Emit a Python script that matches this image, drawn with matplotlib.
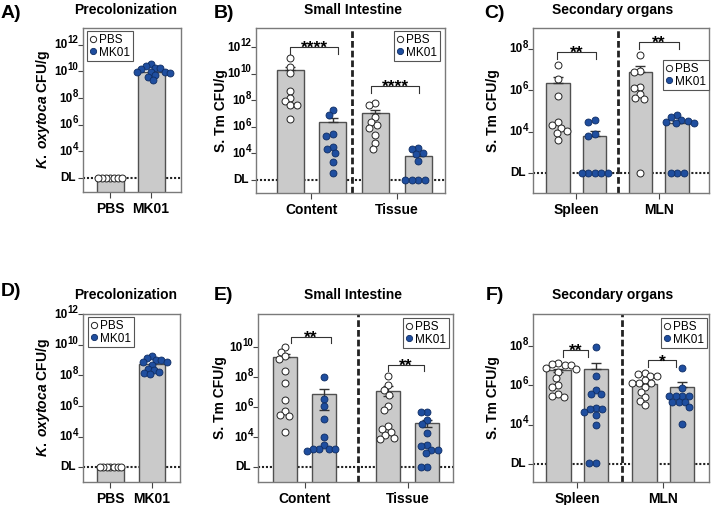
import matplotlib
matplotlib.use("Agg")
import matplotlib.pyplot as plt
from matplotlib.lines import Line2D
import numpy as np

plt.rcParams["font.family"] = ["Liberation Sans", "DejaVu Sans"]
plt.rcParams["mathtext.fontset"] = "custom"
plt.rcParams["mathtext.rm"] = "Liberation Sans:bold"
plt.rcParams["mathtext.it"] = "Liberation Sans:italic:bold"
plt.rcParams["mathtext.bf"] = "Liberation Sans:bold"

W, H = 711, 505
BLUE = "#1f4e9f"
BLUE_EDGE = "#0f2d63"
BAR = "#cacaca"
nan = np.nan

# all values are log10 CFU/g, the detection limit (DL) sits at 10^2
DL = 2.0

# A) Precolonization (K. oxytoca)
a_labels = ["PBS", "MK01"]
a_pbs = [2.0, 2.0, 2.0, 2.0, 2.0, 2.0, 2.0]
a_mk01 = [10.52, 10.39, 10.22, 10.22, 10.14, 9.96, 9.96, 9.96, 9.89, 9.72, 9.59, 9.34]
a_mean = [2.0, 9.96]
a_err_hi = [nan, nan]
a_err_lo = [nan, nan]

# B) Small intestine (S. Tm)
b_groups = ["Content", "Tissue"]
b_content_pbs = [11.15, 10.52, 10.02, 8.71, 8.19, 7.94, 7.64, 7.62, 6.59]
b_content_mk01 = [7.26, 6.89, 5.43, 5.31, 4.5, 4.31, 4.05, 3.33, 2.5]
b_tissue_pbs = [7.77, 7.62, 6.71, 6.34, 6.16, 5.89, 5.38, 4.8, 4.35]
b_tissue_mk01 = [4.4, 4.35, 4.05, 3.95, 3.45, 2.0, 2.0, 2.0, 2.0]
b_mean = [10.27, 6.34, 7.01, 3.8]
b_err_hi = [10.5, 6.64, 7.26, 3.99]
b_err_lo = [nan, nan, nan, nan]
b_stars = ["****", "****"]

# C) Secondary organs
c_groups = ["Spleen", "MLN"]
c_spleen_pbs = [7.23, 6.56, 5.70, 4.45, 4.33, 4.17, 4.06, 3.93, 3.58]
c_spleen_mk01 = [4.55, 4.45, 3.9, 3.8, 2.0, 2.0, 2.0, 2.0, 2.0]
c_mln_pbs = [7.71, 6.94, 6.86, 6.15, 6.1, 5.82, 5.65, 5.57, 2.0]
c_mln_mk01 = [4.81, 4.7, 4.57, 4.5, 4.48, 4.42, 4.4, 2.0, 2.0, 2.0]
c_mean = [6.35, 3.82, 6.87, 4.44]
c_err_hi = [6.62, 4.04, 7.15, 4.53]
c_err_lo = [nan, nan, nan, nan]
c_stars = ["**", "**"]

# D) Precolonization, second experiment
d_labels = ["PBS", "MK01"]
d_pbs = [2.0, 2.0, 2.0, 2.0, 2.0, 2.0, 2.0]
d_mk01 = [9.25, 9.1, 8.99, 8.99, 8.88, 8.88, 8.66, 8.44, 8.33, 8.22, 8.16, 8.11]
d_mean = [2.0, 8.77]
d_err_hi = [nan, nan]
d_err_lo = [nan, nan]

# E) Small intestine, second experiment
e_groups = ["Content", "Tissue"]
e_content_pbs = [9.97, 9.67, 9.37, 9.22, 8.37, 7.6, 6.49, 5.71, 5.44, 5.38, 4.31]
e_content_mk01 = [7.97, 6.53, 6.04, 5.22, 4.0, 3.49, 3.2, 3.2, 3.2, 3.2, 3.07]
e_tissue_pbs = [8.04, 7.49, 7.15, 6.82, 6.09, 5.77, 4.71, 4.55, 4.31, 4.15, 3.93, 3.87]
e_tissue_mk01 = [5.64, 5.64, 5.15, 4.89, 4.27, 3.49, 3.42, 3.15, 3.15, 2.93, 2.0, 2.0]
e_mean = [9.33, 6.89, 7.09, 4.93]
e_err_hi = [9.53, 7.2, 7.37, 5.15]
e_err_lo = [nan, 5.82, 6.71, 4.64]
e_stars = ["**", "**"]

# F) Secondary organs, second experiment
f_groups = ["Spleen", "MLN"]
f_spleen_pbs = [7.13, 7.09, 7.04, 7.04, 6.92, 6.84, 6.67, 6.36, 6.02, 5.93, 5.55, 5.45, 5.42]
f_spleen_mk01 = [7.95, 6.48, 5.76, 5.54, 5.54, 4.87, 4.78, 4.78, 4.65, 4.51, 3.96, 2.03, 2.03]
f_mln_pbs = [6.62, 6.58, 6.48, 6.48, 6.27, 6.15, 6.15, 6.15, 5.93, 5.67, 5.42, 5.21, 4.99]
f_mln_mk01 = [6.92, 5.85, 5.45, 5.45, 5.45, 5.45, 5.16, 5.16, 5.16, 4.9, 4.02]
f_mean = [6.78, 6.87, 6.1, 5.93]
f_err_hi = [6.85, 7.16, 6.15, 6.18]
f_err_lo = [6.68, nan, 6.05, nan]
f_stars = ["**", "*"]


fig = plt.figure(figsize=(W / 100, H / 100), dpi=100)


def add_axes_px(left, top, right, bottom):
    return fig.add_axes([left / W, 1 - bottom / H, (right - left) / W, (bottom - top) / H])


def swarm(ax, xc, ys, gap):
    # simple beeswarm in pixel space
    disp = ax.transData.transform(np.column_stack([np.full(len(ys), xc), ys]))
    x0 = disp[0, 0]
    order = np.argsort(-np.asarray(ys))
    placed = []
    offs = np.zeros(len(ys))
    for i in order:
        y = disp[i, 1]
        cands = [0.0]
        for ox, oy in placed:
            dy = abs(oy - y)
            if dy < gap:
                dx = np.sqrt(gap ** 2 - dy ** 2)
                cands += [ox - dx, ox + dx]
        cands = sorted(cands, key=lambda c: (round(abs(c), 3), c))
        for c in cands:
            if all((c - ox) ** 2 + (y - oy) ** 2 >= gap ** 2 - 1e-6 for ox, oy in placed):
                break
        placed.append((c, y))
        offs[i] = c
    inv = ax.transData.inverted()
    return [inv.transform((x0 + o, yy))[0] for o, yy in zip(offs, disp[:, 1])]


def power_ticks(ax, yticks, base_fs=8.5, exp_fs=7.0):
    # "10" plus a large superscript, drawn by hand like the original figure
    ax.set_yticks(yticks)
    ax.set_yticklabels([])
    tr = ax.get_yaxis_transform()
    for t in yticks:
        if t == DL:
            ax.annotate("DL", xy=(0, t), xycoords=tr, xytext=(-5, 0), textcoords="offset points",
                        ha="right", va="center", fontsize=base_fs, fontweight="bold")
            continue
        exp = str(int(t))
        w_exp = len(exp) * 0.556 * exp_fs
        ax.annotate(exp, xy=(0, t), xycoords=tr, xytext=(-3.2, 3.0), textcoords="offset points",
                    ha="right", va="center", fontsize=exp_fs, fontweight="bold")
        ax.annotate("10", xy=(0, t), xycoords=tr, xytext=(-3.4 - w_exp, -0.5),
                    textcoords="offset points", ha="right", va="center",
                    fontsize=base_fs, fontweight="bold")


def panel(rect, xlim, ylim, pos, width, groups, means, err_hi, err_lo, yticks,
          xticks, xlabels, ylabel, ylabel_x, title, title_xy, letter, letter_xy,
          legend_px, legend_loc, gap=6.5, dashed=None, brackets=()):
    ax = add_axes_px(*rect)
    ax.set_xlim(*xlim)
    ax.set_ylim(*ylim)
    ax.axhline(DL, color="#222222", lw=1.5, ls=(0, (1, 0.9)), zorder=1)
    if dashed is not None:
        ax.axvline(dashed, color="#222222", lw=2.0, ls=(0, (2.4, 1.1)), zorder=1)
    ax.bar(pos, np.array(means) - (ylim[0] - 1), width, bottom=ylim[0] - 1,
           color=BAR, edgecolor="#505050", lw=1.0, zorder=2)
    for x, m, hi, lo in zip(pos, means, err_hi, err_lo):
        if np.isnan(hi):
            continue
        lo_v = m if np.isnan(lo) else lo
        ax.errorbar([x], [m], yerr=[[m - lo_v], [hi - m]], fmt="none",
                    ecolor="#333333", elinewidth=1.0, capsize=3.8, capthick=1.0, zorder=3)
    for i, (x, ys) in enumerate(zip(pos, groups)):
        g = gap[i] if isinstance(gap, (list, tuple)) else gap
        xs = swarm(ax, x, ys, g)
        if i % 2 == 0:
            ax.plot(xs, ys, "o", ms=5, mfc="white", mec="#222222", mew=0.7, ls="none", zorder=4)
        else:
            ax.plot(xs, ys, "o", ms=5, mfc=BLUE, mec=BLUE_EDGE, mew=0.6, ls="none", zorder=4)
    for x0, x1, ytop, ybot, s in brackets:
        ax.plot([x0, x0, x1, x1], [ybot, ytop, ytop, ybot], color="#333333", lw=0.8, zorder=3)
        ax.annotate(s, xy=((x0 + x1) / 2, ytop), xytext=(0, -4.5), textcoords="offset points",
                    ha="center", va="baseline", fontsize=12.5, fontweight="bold")
    power_ticks(ax, yticks)
    ax.set_xticks(xticks)
    ax.set_xticklabels(xlabels, fontsize=10, fontweight="bold")
    ax.tick_params(axis="y", length=3.5, width=0.8, color="#444444", pad=1.5)
    ax.tick_params(axis="x", length=4, width=0.8, color="#444444", pad=3.2)
    for sp in ax.spines.values():
        sp.set_color("#7a7a7a")
        sp.set_linewidth(1.0)

    handles = [
        Line2D([], [], marker="o", ls="none", ms=4.5, mfc="white", mec="#222222", mew=0.7),
        Line2D([], [], marker="o", ls="none", ms=4.5, mfc=BLUE, mec=BLUE_EDGE, mew=0.6),
    ]
    anchor = ax.transAxes.inverted().transform((legend_px[0], H - legend_px[1]))
    leg = ax.legend(handles, ["PBS", "MK01"], loc=legend_loc, bbox_to_anchor=tuple(anchor),
                    borderaxespad=0, fontsize=8.5, handlelength=0.5, handletextpad=0.25,
                    borderpad=0.25, labelspacing=0.05, fancybox=False, framealpha=1)
    leg.get_frame().set_edgecolor("#555555")
    leg.get_frame().set_linewidth(0.8)

    cy = (rect[1] + rect[3]) / 2
    fig.text(ylabel_x / W, 1 - cy / H, ylabel, rotation=90, ha="center", va="center",
             fontsize=10, fontweight="bold")
    fig.text(title_xy[0] / W, 1 - title_xy[1] / H, title, ha="center", va="center",
             fontsize=10, fontweight="bold")
    fig.text(letter_xy[0] / W, 1 - letter_xy[1] / H, letter, ha="left", va="center",
             fontsize=14, fontweight="bold")
    return ax


KOX = r"$\mathit{K.\ oxytoca}$ CFU/g"
STM = "S. Tm CFU/g"

panel((83, 28, 181, 192), (-0.66, 1.73), (0.95, 13.24), [0, 1], 0.66,
      [a_pbs, a_mk01], a_mean, a_err_hi, a_err_lo, [2, 4, 6, 8, 10, 12],
      [0, 1], a_labels, KOX, 43, "Precolonization", (126, 10), "A)", (1, 13),
      (87, 31), "upper left", gap=[4.0, 5.5])

panel((256, 28, 445, 193), (-0.8, 3.63), (1.02, 13.43), [0, 1, 2, 3], 0.63,
      [b_content_pbs, b_content_mk01, b_tissue_pbs, b_tissue_mk01],
      b_mean, b_err_hi, b_err_lo, [2, 4, 6, 8, 10, 12],
      [0.5, 2.5], b_groups, STM, 221, "Small Intestine", (353, 10), "B)", (214, 13),
      (440, 31), "upper right", dashed=1.45,
      brackets=[(0, 1.12, 12.02, 11.45, b_stars[0]), (1.9, 3.03, 9.07, 8.52, b_stars[1])])

panel((533, 28, 709, 193), (-0.68, 4.12), (1.05, 9.0), [0, 1, 2.25, 3.25], 0.64,
      [c_spleen_pbs, c_spleen_mk01, c_mln_pbs, c_mln_mk01],
      c_mean, c_err_hi, c_err_lo, [2, 4, 6, 8],
      [0.5, 2.75], c_groups, STM, 493, "Secondary organs", (613, 10), "C)", (484, 13),
      (709, 60), "upper right", dashed=1.63,
      brackets=[(-0.03, 1.04, 7.85, 7.51, c_stars[0]), (2.22, 3.3, 8.33, 7.99, c_stars[1])])

panel((83, 314, 180, 482), (-0.66, 1.67), (1.05, 12.0), [0, 1], 0.63,
      [d_pbs, d_mk01], d_mean, d_err_hi, d_err_lo, [2, 4, 6, 8, 10, 12],
      [0, 1], d_labels, KOX, 43, "Precolonization", (126, 295), "D)", (1, 292),
      (88, 317), "upper left", gap=[3.6, 5.5])

panel((258, 314, 453, 482), (-0.70, 4.31), (1.0, 12.2), [0, 1, 2.65, 3.65], 0.62,
      [e_content_pbs, e_content_mk01, e_tissue_pbs, e_tissue_mk01],
      e_mean, e_err_hi, e_err_lo, [2, 4, 6, 8, 10],
      [0.5, 3.15], e_groups, STM, 220, "Small Intestine", (353, 295), "E)", (214, 295),
      (449, 318), "upper right", dashed=1.88,
      brackets=[(0.14, 1.17, 10.7, 10.26, e_stars[0]), (2.65, 3.56, 8.82, 8.37, e_stars[1])])

panel((533, 314, 709, 482), (-0.68, 4.02), (1.06, 9.66), [0, 1, 2.3, 3.3], 0.65,
      [f_spleen_pbs, f_spleen_mk01, f_mln_pbs, f_mln_mk01],
      f_mean, f_err_hi, f_err_lo, [2, 4, 6, 8],
      [0.5, 2.8], f_groups, STM, 493, "Secondary organs", (613, 295), "F)", (486, 295),
      (707, 318), "upper right", dashed=1.69,
      brackets=[(0.12, 0.8, 7.82, 7.47, f_stars[0]), (2.39, 3.13, 7.3, 6.96, f_stars[1])])

fig.savefig("out.png", dpi=100)
